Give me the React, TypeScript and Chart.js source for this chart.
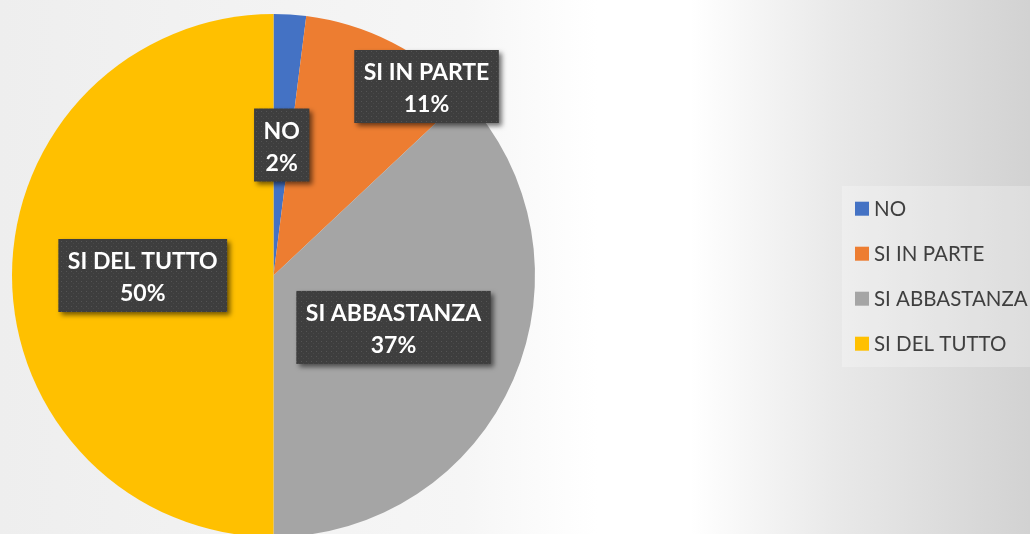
import React, { useEffect, useRef } from "react";
import { Chart, registerables } from "chart.js";

Chart.register(...registerables);

const categories = ["NO", "SI IN PARTE", "SI ABBASTANZA", "SI DEL TUTTO"];
const values = [2, 11, 37, 50];
const sliceColors = ["#4472C4", "#ED7D31", "#A5A5A5", "#FFC000"];
// label placement (best-fit style): fraction of radius and angle shift in degrees
const labelRadiusFraction = [0.5, 0.93, 0.5, 0.5];
const labelAngleShiftDeg = [0, 12, 0, 0];

const W = 1030;
const H = 534;
const CANVAS_H = 540;

function makePattern(ctx: CanvasRenderingContext2D) {
  const c = document.createElement("canvas");
  c.width = 5;
  c.height = 5;
  const p = c.getContext("2d")!;
  p.fillStyle = "#3e3e3e";
  p.fillRect(0, 0, 5, 5);
  p.fillStyle = "#545454";
  p.fillRect(1, 1, 1, 1);
  p.fillStyle = "#494949";
  p.fillRect(3, 3, 1, 1);
  return ctx.createPattern(c, "repeat");
}

const backgroundPlugin = {
  id: "bgGradient",
  beforeDraw(chart: any) {
    const ctx: CanvasRenderingContext2D = chart.ctx;
    ctx.save();
    const g = ctx.createLinearGradient(0, 0, W, 0);
    g.addColorStop(0, "#eeeeee");
    g.addColorStop(0.45, "#f6f6f6");
    g.addColorStop(0.58, "#ffffff");
    g.addColorStop(0.67, "#ffffff");
    g.addColorStop(0.81, "#e9e9e9");
    g.addColorStop(1, "#d2d2d2");
    ctx.fillStyle = g;
    ctx.fillRect(0, 0, chart.width, chart.height);
    ctx.restore();
  },
};

const labelPlugin = {
  id: "boxLabels",
  afterDatasetsDraw(chart: any) {
    const ctx: CanvasRenderingContext2D = chart.ctx;
    const meta = chart.getDatasetMeta(0);
    const data: number[] = chart.data.datasets[0].data;
    const total = data.reduce((a, b) => a + b, 0);
    const pattern = makePattern(ctx);
    ctx.save();
    ctx.font = "bold 23px Lato";
    meta.data.forEach((arc: any, i: number) => {
      const mid = (arc.startAngle + arc.endAngle) / 2 + (labelAngleShiftDeg[i] * Math.PI) / 180;
      const r = arc.outerRadius * labelRadiusFraction[i];
      const cx = arc.x + Math.cos(mid) * r;
      const cy = arc.y + Math.sin(mid) * r;
      const l1 = String(chart.data.labels[i]);
      const l2 = Math.round((data[i] / total) * 100) + "%";
      const tw = Math.max(ctx.measureText(l1).width, ctx.measureText(l2).width);
      const bw = tw + 19;
      const bh = 73;
      const bx = cx - bw / 2;
      const by = cy - bh / 2;
      ctx.save();
      ctx.shadowColor = "rgba(0,0,0,0.55)";
      ctx.shadowBlur = 5;
      ctx.shadowOffsetX = 3;
      ctx.shadowOffsetY = 3;
      ctx.fillStyle = pattern || "#404040";
      ctx.fillRect(bx, by, bw, bh);
      ctx.restore();
      ctx.fillStyle = "#ffffff";
      ctx.textAlign = "center";
      ctx.textBaseline = "alphabetic";
      ctx.fillText(l1, cx, by + 30);
      ctx.fillText(l2, cx, by + 62);
    });
    ctx.restore();
  },
};

const legendPlugin = {
  id: "customLegend",
  afterDraw(chart: any) {
    const ctx: CanvasRenderingContext2D = chart.ctx;
    const labels: string[] = chart.data.labels;
    const colors: string[] = chart.data.datasets[0].backgroundColor;
    ctx.save();
    ctx.fillStyle = "rgba(255,255,255,0.25)";
    ctx.fillRect(842, 186, W - 842, 181);
    ctx.font = "20.5px Lato";
    ctx.textAlign = "left";
    ctx.textBaseline = "alphabetic";
    labels.forEach((lab, i) => {
      const top = 201.7 + i * 45;
      ctx.fillStyle = colors[i];
      ctx.fillRect(855, top, 14, 14);
      ctx.fillStyle = "#3f3f3f";
      ctx.fillText(lab, 874, top + 14);
    });
    ctx.restore();
  },
};

export default function App() {
  const ref = useRef<HTMLCanvasElement | null>(null);
  useEffect(() => {
    document.body.style.margin = "0";
    const canvas = ref.current!;
    const chart = new Chart(canvas, {
      type: "pie",
      data: {
        labels: categories,
        datasets: [
          {
            data: values,
            backgroundColor: sliceColors,
            borderWidth: 0,
            hoverOffset: 0,
            offset: 0,
          },
        ],
      },
      options: {
        responsive: false,
        animation: false,
        devicePixelRatio: 1,
        layout: { padding: { left: 12, top: 14, right: W - 535, bottom: CANVAS_H - 14 - 523 } },
        plugins: {
          legend: { display: false },
          tooltip: { enabled: false },
        },
      },
      plugins: [backgroundPlugin, labelPlugin, legendPlugin],
    });
    return () => chart.destroy();
  }, []);
  return (
    <div style={{ position: "fixed", left: 0, top: 0, width: W, height: H, overflow: "hidden" }}>
      <canvas ref={ref} width={W} height={CANVAS_H} style={{ display: "block" }} />
    </div>
  );
}
